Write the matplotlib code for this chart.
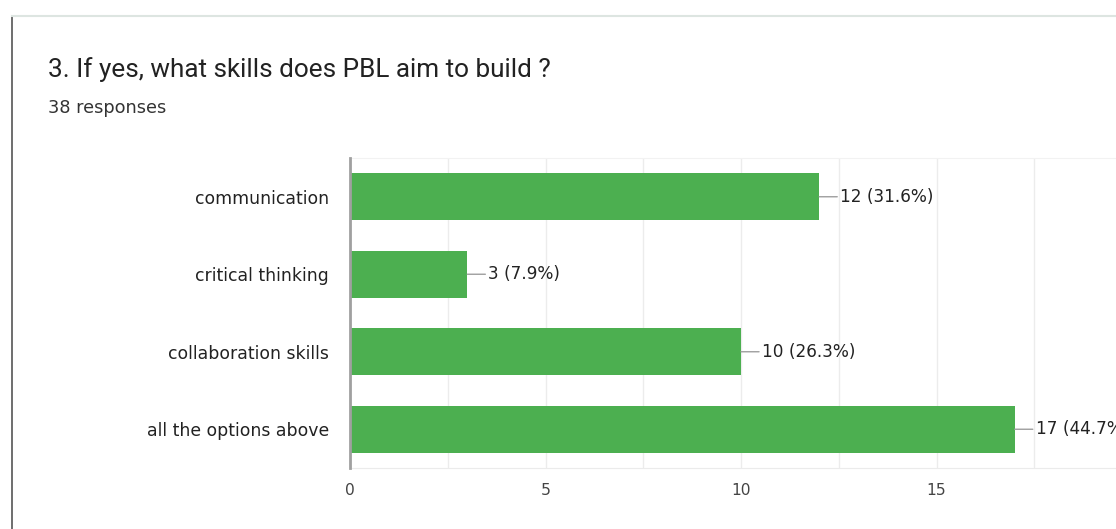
import matplotlib.pyplot as plt
from matplotlib.lines import Line2D

categories = ['communication', 'critical thinking', 'collaboration skills', 'all the options above']
counts = [12, 3, 10, 17]
percents = ['31.6%', '7.9%', '26.3%', '44.7%']
xticks = [0, 5, 10, 15]
title = '3. If yes, what skills does PBL aim to build ?'
subtitle = '38 responses'

W, H = 1116, 529
fig = plt.figure(figsize=(W / 100, H / 100), dpi=100)
fig.patch.set_facecolor('white')

# card border (left dark line, top pale line)
fig.add_artist(Line2D([12 / W, 12 / W], [0, 1 - 16 / H], color='#555555', lw=1.2))
fig.add_artist(Line2D([12 / W, 1], [1 - 16 / H, 1 - 16 / H], color='#dde5e1', lw=1.5))

fig.text(48 / W, 1 - 70 / H, title, family='Roboto', fontsize=18.8, color='#222222', va='center')
fig.text(48 / W, 1 - 108 / H, subtitle, family='DejaVu Sans', fontsize=12.8, color='#333333', va='center')

# axes spans 0..20 from x=350 to x=1132 (clipped by the figure edge)
ax = fig.add_axes([350 / W, 61 / H, 782 / W, 310 / H])
y = list(range(len(categories)))
ax.barh(y, counts, height=0.61, color='#4caf50', zorder=3)
ax.set_xlim(0, 20)
ax.set_ylim(len(categories) - 0.5, -0.5)

grid = [i * 2.5 for i in range(9)]
ax.set_xticks(grid)
ax.set_xticklabels([str(int(t)) if t in xticks else '' for t in grid])
ax.grid(axis='x', color='#ececec', lw=1, zorder=0)
ax.set_yticks(y)
ax.set_yticklabels(categories, family='DejaVu Sans', fontsize=12.4, color='#222222')
ax.tick_params(axis='both', length=0)
ax.tick_params(axis='y', pad=15)
ax.tick_params(axis='x', pad=11, labelsize=11.2, labelcolor='#444444')
for lab in ax.get_xticklabels():
    lab.set_family('DejaVu Sans')

ax.spines['right'].set_visible(False)
ax.spines['left'].set_color('#a0a0a0')
ax.spines['left'].set_linewidth(2)
ax.spines['left'].set_zorder(4)
ax.spines['top'].set_color('#f2f2f2')
ax.spines['bottom'].set_color('#ebebeb')

for i, (c, p) in enumerate(zip(counts, percents)):
    ax.annotate(f'{c} ({p})', xy=(c, i), xytext=(15, 0), textcoords='offset points',
                ha='left', va='center', family='DejaVu Sans', fontsize=12.2, color='#222222',
                annotation_clip=False,
                arrowprops=dict(arrowstyle='-', color='#9e9e9e', lw=1, shrinkA=0, shrinkB=0))

fig.savefig('out.png', dpi=100)
